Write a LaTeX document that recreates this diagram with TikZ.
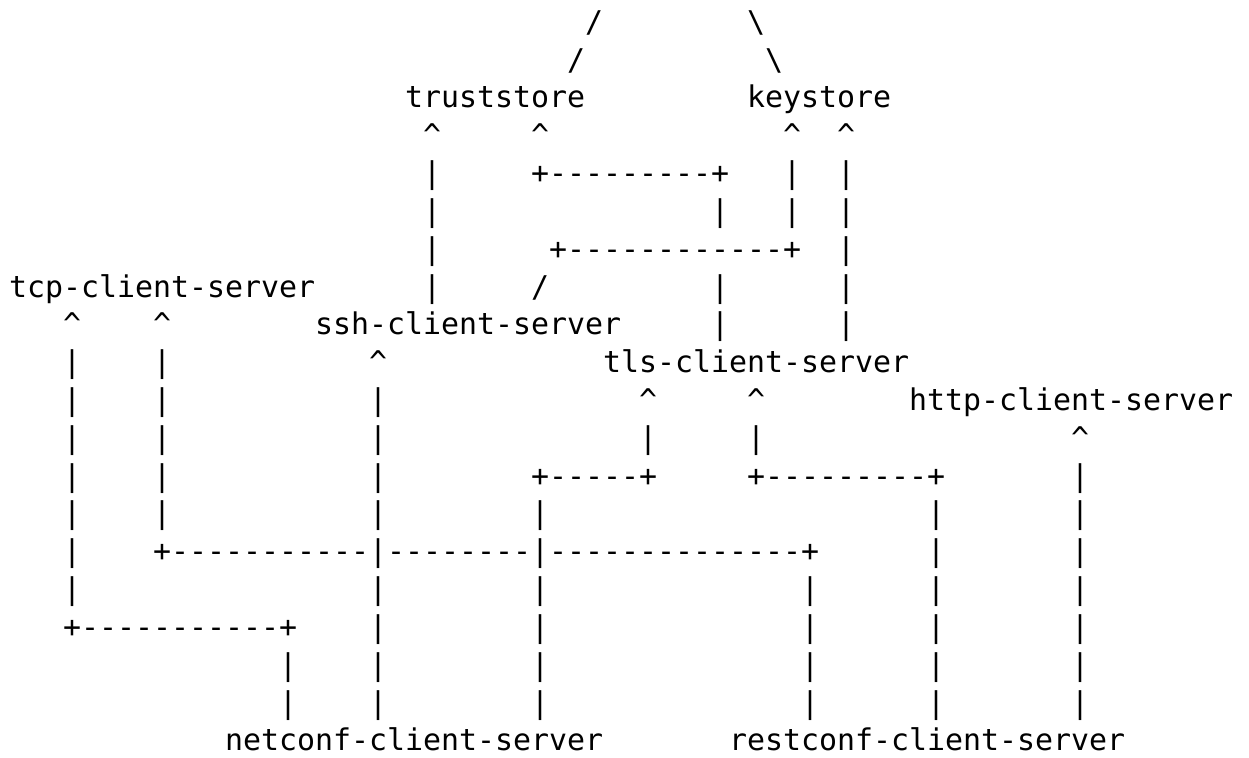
\documentclass[tikz,border=0pt]{standalone}
\usepackage{fontspec}
\setmonofont{DejaVu Sans Mono}
\newcounter{tk}
\tikzset{
  tok/.style={anchor=base west, inner sep=0pt, outer sep=0pt, text=black,
    font=\ttfamily\fontsize{22.43pt}{27pt}\selectfont},
}
% #1 column, #2 row, #3 text
\newcommand\tk[3]{\stepcounter{tk}\node[tok] (g\arabic{tk}) at ({9+18*#1},{757-(32.2+37.83*(#2-1))}) {#3};}
% named label: #1 name, #2 column, #3 row, #4 text
\newcommand\lbl[4]{\node[tok] (#1) at ({9+18*#2},{757-(32.2+37.83*(#3-1))}) {#4};}
\newcommand\up{\char"5E}
\newcommand\bs{\char"5C}
\begin{document}
\begin{tikzpicture}[x=0.75pt,y=0.75pt]
\useasboundingbox (0,0) rectangle (1249,757);
% row 1-2
\tk{32}{1}{/}\tk{41}{1}{\bs}
\tk{31}{2}{/}\tk{42}{2}{\bs}
% row 3
\lbl{truststore}{22}{3}{truststore}
\lbl{keystore}{41}{3}{keystore}
% row 4
\tk{23}{4}{\up}\tk{29}{4}{\up}\tk{43}{4}{\up}\tk{46}{4}{\up}
% row 5
\tk{23}{5}{|}\tk{29}{5}{+---------+}\tk{43}{5}{|}\tk{46}{5}{|}
% row 6
\tk{23}{6}{|}\tk{39}{6}{|}\tk{43}{6}{|}\tk{46}{6}{|}
% row 7
\tk{23}{7}{|}\tk{30}{7}{+------------+}\tk{46}{7}{|}
% row 8
\lbl{tcp}{0}{8}{tcp-client-server}
\tk{23}{8}{|}\tk{29}{8}{/}\tk{39}{8}{|}\tk{46}{8}{|}
% row 9
\tk{3}{9}{\up}\tk{8}{9}{\up}
\lbl{ssh}{17}{9}{ssh-client-server}
\tk{39}{9}{|}\tk{46}{9}{|}
% row 10
\tk{3}{10}{|}\tk{8}{10}{|}\tk{20}{10}{\up}
\lbl{tls}{33}{10}{tls-client-server}
% row 11
\tk{3}{11}{|}\tk{8}{11}{|}\tk{20}{11}{|}\tk{35}{11}{\up}\tk{41}{11}{\up}
\lbl{http}{50}{11}{http-client-server}
% row 12
\tk{3}{12}{|}\tk{8}{12}{|}\tk{20}{12}{|}\tk{35}{12}{|}\tk{41}{12}{|}\tk{59}{12}{\up}
% row 13
\tk{3}{13}{|}\tk{8}{13}{|}\tk{20}{13}{|}\tk{29}{13}{+-----+}\tk{41}{13}{+---------+}\tk{59}{13}{|}
% row 14
\tk{3}{14}{|}\tk{8}{14}{|}\tk{20}{14}{|}\tk{29}{14}{|}\tk{51}{14}{|}\tk{59}{14}{|}
% row 15
\tk{3}{15}{|}\tk{8}{15}{+-----------|--------|--------------+}\tk{51}{15}{|}\tk{59}{15}{|}
% row 16
\tk{3}{16}{|}\tk{20}{16}{|}\tk{29}{16}{|}\tk{44}{16}{|}\tk{51}{16}{|}\tk{59}{16}{|}
% row 17
\tk{3}{17}{+-----------+}\tk{20}{17}{|}\tk{29}{17}{|}\tk{44}{17}{|}\tk{51}{17}{|}\tk{59}{17}{|}
% row 18-19
\tk{15}{18}{|}\tk{20}{18}{|}\tk{29}{18}{|}\tk{44}{18}{|}\tk{51}{18}{|}\tk{59}{18}{|}
\tk{15}{19}{|}\tk{20}{19}{|}\tk{29}{19}{|}\tk{44}{19}{|}\tk{51}{19}{|}\tk{59}{19}{|}
% row 20
\lbl{netconf}{12}{20}{netconf-client-server}
\lbl{restconf}{40}{20}{restconf-client-server}
\end{tikzpicture}
\end{document}
